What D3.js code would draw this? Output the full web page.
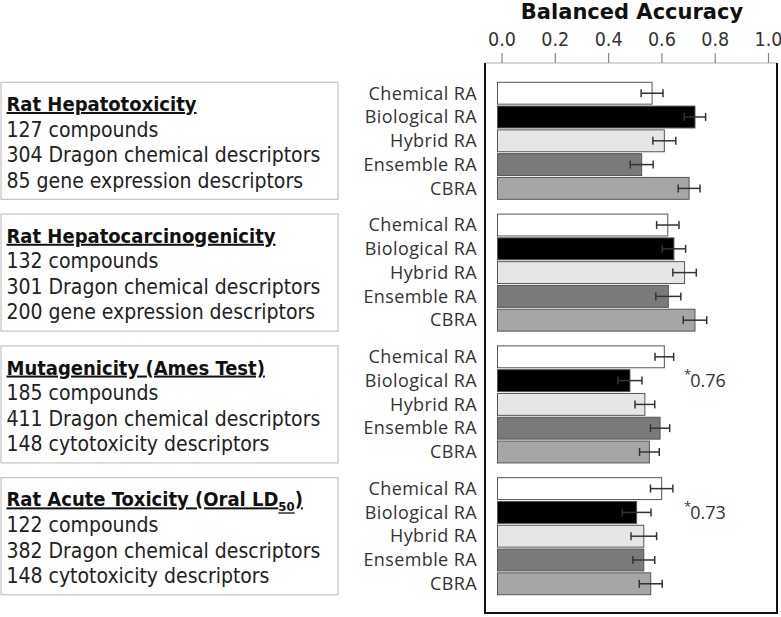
<!DOCTYPE html>
<html>
<head>
<meta charset="utf-8">
<script src="https://cdn.jsdelivr.net/npm/d3@7/dist/d3.min.js"></script>
<style>
  html, body { margin: 0; padding: 0; background: #fff; }
  svg { display: block; }
</style>
</head>
<body>
<svg id="chart" width="781" height="617"></svg>
<script>
// ---------- data ----------
const datasets = ["Rat Hepatotoxicity", "Rat Hepatocarcinogenicity", "Mutagenicity (Ames Test)", "Rat Acute Toxicity (Oral LD50)"];
const methods = ["Chemical RA", "Biological RA", "Hybrid RA", "Ensemble RA", "CBRA"];
const methodColors = ["#ffffff", "#000000", "#e6e6e6", "#7a7a7a", "#a6a6a6"];

// balanced accuracy per dataset (rows) and method (columns)
const accHepatotox   = [0.565, 0.726, 0.611, 0.526, 0.704];
const accHepatocarc  = [0.624, 0.647, 0.687, 0.626, 0.726];
const accMutagen     = [0.611, 0.482, 0.538, 0.595, 0.555];
const accAcuteTox    = [0.601, 0.507, 0.534, 0.534, 0.560];
// error (± half-width)
const errHepatotox   = [0.041, 0.040, 0.043, 0.043, 0.041];
const errHepatocarc  = [0.042, 0.044, 0.044, 0.047, 0.044];
const errMutagen     = [0.035, 0.045, 0.037, 0.036, 0.037];
const errAcuteTox    = [0.042, 0.054, 0.048, 0.041, 0.043];

const compounds   = ["127 compounds", "132 compounds", "185 compounds", "122 compounds"];
const chemDesc    = ["304 Dragon chemical descriptors", "301 Dragon chemical descriptors", "411 Dragon chemical descriptors", "382 Dragon chemical descriptors"];
const bioDesc     = ["85 gene expression descriptors", "200 gene expression descriptors", "148 cytotoxicity descriptors", "148 cytotoxicity descriptors"];
const annotations = [null, null, "0.76", "0.73"]; // shown next to Biological RA

const xTicks = [0.0, 0.2, 0.4, 0.6, 0.8, 1.0];
const axisTitle = "Balanced Accuracy";

// ---------- build ----------
const accAll = [accHepatotox, accHepatocarc, accMutagen, accAcuteTox];
const errAll = [errHepatotox, errHepatocarc, errMutagen, errAcuteTox];
const rows = [];
datasets.forEach((ds, i) => methods.forEach((m, j) => rows.push({ds, m, j, v: accAll[i][j], e: errAll[i][j]})));

const svg = d3.select("#chart");
const sans = "'DejaVu Sans Condensed', 'DejaVu Sans', sans-serif";
const labelFont = "'Open Sans', 'Liberation Sans', sans-serif";

const x = d3.scaleLinear().domain([0, 1]).range([501.5, 768]);
const yGroup = d3.scaleBand().domain(datasets).range([74.9, 602.1]).paddingInner(0.112).paddingOuter(0.056);
const yBar = d3.scaleBand().domain(methods).range([0, yGroup.bandwidth()]).paddingInner(0.08);
const color = d3.scaleOrdinal().domain(methods).range(methodColors);
const barInset = 4;

const frame = {left: 485, right: 777, top: 63, bottom: 613};

// frame
svg.append("line").attr("x1", frame.left).attr("x2", frame.right).attr("y1", frame.top).attr("y2", frame.top)
  .attr("stroke", "#b0b0b0").attr("stroke-width", 1);
svg.append("line").attr("x1", frame.left).attr("x2", frame.left).attr("y1", frame.top).attr("y2", frame.bottom)
  .attr("stroke", "#111").attr("stroke-width", 2);
svg.append("line").attr("x1", frame.right).attr("x2", frame.right).attr("y1", frame.top).attr("y2", frame.bottom)
  .attr("stroke", "#111").attr("stroke-width", 2);
svg.append("line").attr("x1", frame.left - 1).attr("x2", frame.right + 1).attr("y1", frame.bottom).attr("y2", frame.bottom)
  .attr("stroke", "#111").attr("stroke-width", 2);

// axis
const axis = d3.axisTop(x).tickValues(xTicks).tickFormat(d3.format(".1f")).tickSize(10).tickPadding(7);
const ax = svg.append("g").attr("transform", `translate(0,${frame.top})`).call(axis);
ax.select(".domain").remove();
ax.selectAll(".tick line").attr("stroke", "#888").attr("stroke-width", 1.2);
ax.selectAll(".tick text").attr("font-family", sans).attr("font-size", 19.5).attr("fill", "#333");

svg.append("text").attr("x", 632).attr("y", 19).attr("text-anchor", "middle")
  .attr("font-family", "'DejaVu Sans', sans-serif").attr("font-weight", "bold").attr("font-size", 21)
  .attr("fill", "#111").text(axisTitle);

// groups
const g = svg.selectAll("g.grp").data(datasets).join("g").attr("class", "grp")
  .attr("transform", d => `translate(0,${yGroup(d)})`);

// dataset boxes
g.append("rect").attr("x", 1).attr("y", 0).attr("width", 337).attr("height", yGroup.bandwidth())
  .attr("fill", "#fff").attr("stroke", "#c4c4c4").attr("stroke-width", 1.2);

g.each(function(ds, i) {
  const gg = d3.select(this);
  const t = gg.append("text").attr("x", 6.5).attr("y", 28.7)
    .attr("font-family", sans).attr("font-weight", "bold").attr("font-size", 20)
    .attr("fill", "#111").attr("text-decoration", "underline");
  if (ds.endsWith("LD50)")) {
    t.append("tspan").text("Rat Acute Toxicity (Oral LD");
    t.append("tspan").attr("font-size", 13).attr("dy", 5).text("50");
    t.append("tspan").attr("dy", -5).text(")");
  } else {
    t.text(ds);
  }
  [compounds[i], chemDesc[i], bioDesc[i]].forEach((line, k) => {
    gg.append("text").attr("x", 6.5).attr("y", [54.4, 80, 105.4][k])
      .attr("font-family", sans).attr("font-size", 21).attr("fill", "#222").text(line);
  });

  // category labels
  gg.selectAll("text.cat").data(methods).join("text").attr("class", "cat")
    .attr("x", 477).attr("y", m => yBar(m) + yBar.bandwidth() / 2).attr("dy", "0.35em")
    .attr("text-anchor", "end").attr("font-family", labelFont).attr("font-size", 18)
    .attr("letter-spacing", 0.4).attr("fill", "#333").text(m => m);

  const data = rows.filter(r => r.ds === ds);
  // bars
  gg.selectAll("rect.bar").data(data).join("rect").attr("class", "bar")
    .attr("x", x(0) - barInset).attr("y", d => yBar(d.m))
    .attr("width", d => x(d.v) - x(0) + barInset).attr("height", yBar.bandwidth())
    .attr("fill", d => color(d.m)).attr("stroke", "#555").attr("stroke-width", 1);

  // error bars
  const eb = gg.selectAll("g.err").data(data).join("g").attr("class", "err")
    .attr("stroke", "#333").attr("stroke-width", 1.5);
  eb.append("line").attr("x1", d => x(d.v - d.e)).attr("x2", d => x(d.v + d.e))
    .attr("y1", d => yBar(d.m) + yBar.bandwidth() / 2).attr("y2", d => yBar(d.m) + yBar.bandwidth() / 2);
  [-1, 1].forEach(s => {
    eb.append("line").attr("x1", d => x(d.v + s * d.e)).attr("x2", d => x(d.v + s * d.e))
      .attr("y1", d => yBar(d.m) + yBar.bandwidth() / 2 - 4).attr("y2", d => yBar(d.m) + yBar.bandwidth() / 2 + 4);
  });

  if (annotations[i]) {
    const ya = yBar("Biological RA") + yBar.bandwidth() / 2;
    const at = gg.append("text").attr("x", 684).attr("y", ya).attr("dy", "0.35em")
      .attr("font-family", labelFont).attr("font-size", 18).attr("fill", "#333");
    at.append("tspan").attr("font-size", 13).attr("dy", "-0.1em").text("*");
    at.append("tspan").attr("dy", "0.45em").attr("dx", -1).text(annotations[i]);
  }
});
</script>
</body>
</html>
